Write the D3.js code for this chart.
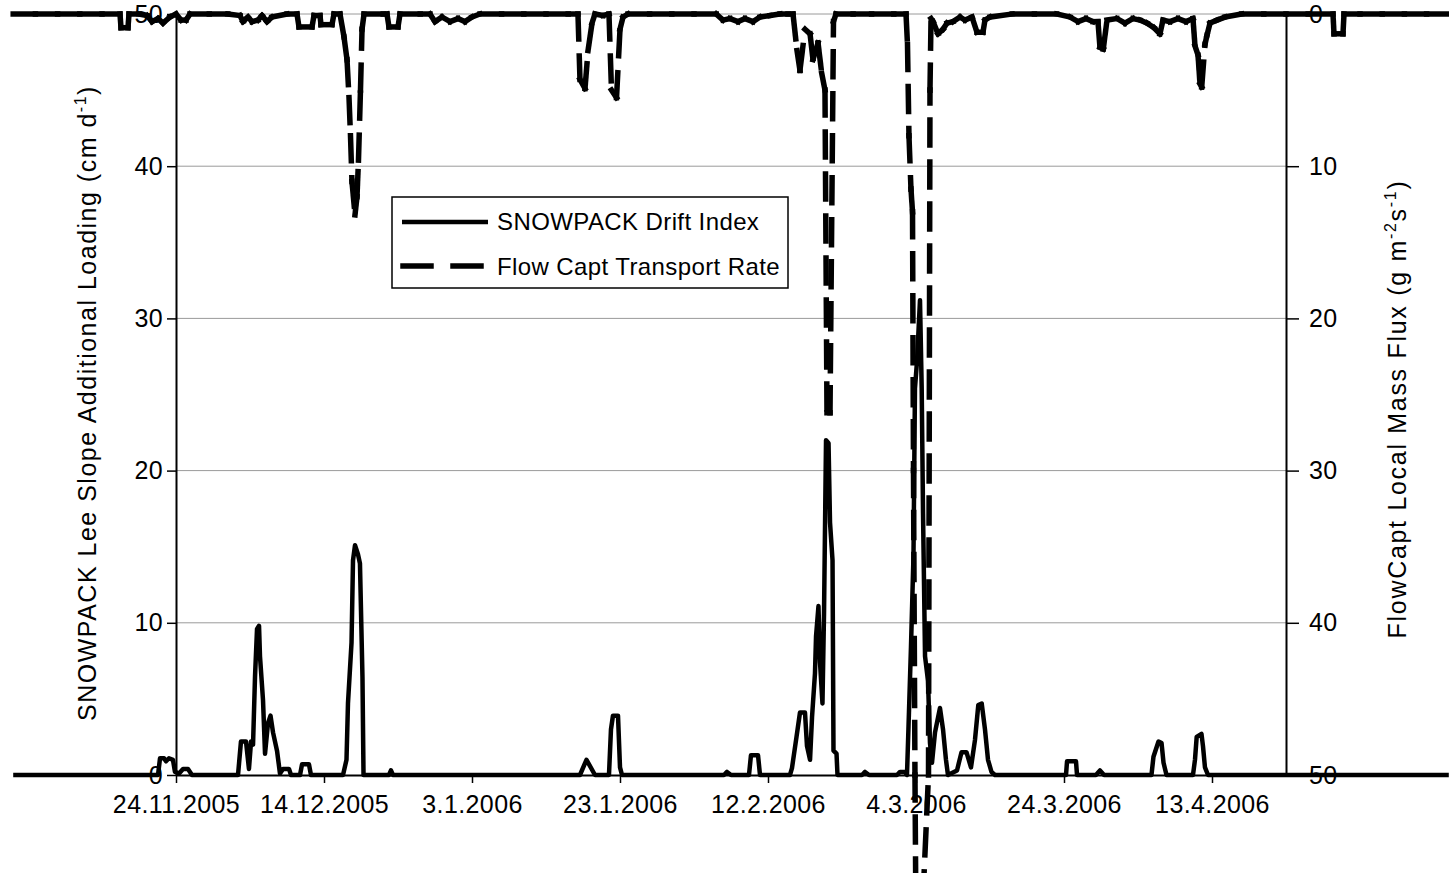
<!DOCTYPE html>
<html>
<head>
<meta charset="utf-8">
<script src="https://cdn.jsdelivr.net/npm/d3@7"></script>
<style>
  body { margin: 0; background: #fff; }
  svg { display: block; font-family: "Liberation Sans", Arial, sans-serif; }
</style>
</head>
<body>
<script>
'use strict';

// x tick labels (every 20 days)
const xTickLabels = ["24.11.2005", "14.12.2005", "3.1.2006", "23.1.2006",
  "12.2.2006", "4.3.2006", "24.3.2006", "13.4.2006"];
const leftTicks = [0, 10, 20, 30, 40, 50];
const rightTicks = [0, 10, 20, 30, 40, 50];

// SNOWPACK drift index: days after 24.11.2005, value in cm/d
const snowDays = [-22, -2.84, -2.43, -2.16, -1.62, -1.35, -0.95, -0.41, -0.14, 0.41, 0.95, 1.62, 2.16,
  8.38, 8.78, 9.46, 9.86, 10.14, 10.41, 10.68, 10.95, 11.22, 11.35, 11.76, 12.03, 12.43, 12.77,
  13.11, 13.65, 14.05, 14.46, 15.27, 15.54, 16.76, 17.03, 17.97, 18.24,
  22.57, 23.04, 23.24, 23.72, 23.92, 24.19, 24.59, 24.86, 25.2, 25.34,
  28.78, 29.05, 29.32, 54.59, 55.47, 56.62, 58.51, 58.78, 59.05, 59.73, 60.0, 60.27,
  74.05, 74.46, 75.0, 77.43, 77.7, 78.65, 78.92,
  82.97, 83.24, 83.85, 84.32, 85.0, 85.27, 85.68, 85.95, 86.35, 86.49, 86.82, 87.03, 87.36,
  87.57, 87.84, 88.18, 88.38, 88.72, 88.85, 89.26, 89.39,
  92.7, 93.11, 93.65, 97.43, 97.84, 98.51, 98.78, 98.99, 99.32, 99.66, 99.86, 100.14, 100.54,
  100.77, 100.95, 101.22, 101.62, 101.89, 102.16, 102.57, 103.24, 103.65, 104.05, 104.32,
  105.54, 106.15, 106.82, 107.43, 107.97, 108.42, 108.88, 109.32, 109.73, 110.2, 110.68,
  120.27, 120.41, 121.62, 121.76, 124.32, 124.86, 125.41,
  131.82, 132.09, 132.77, 133.18, 133.45, 133.85,
  137.43, 137.7, 137.93, 138.58, 138.78, 139.05, 139.46, 172];
const snowValues = [0, 0, 0, 1.1, 1.1, 0.9, 1.1, 1.0, 0.2, 0.1, 0.4, 0.4, 0,
  0, 2.2, 2.2, 0.4, 2.2, 2.0, 6.5, 9.6, 9.8, 7.8, 4.9, 1.4, 3.4, 3.9,
  2.8, 1.6, 0.1, 0.4, 0.4, 0, 0, 0.7, 0.7, 0,
  0, 1.0, 4.7, 8.7, 14.1, 15.1, 14.5, 13.9, 6.4, 0,
  0, 0.3, 0, 0, 1.0, 0, 0, 3.0, 3.9, 3.9, 0.5, 0,
  0, 0.2, 0, 0, 1.3, 1.3, 0,
  0, 0.45, 2.5, 4.1, 4.1, 1.9, 1.0, 3.8, 6.7, 9.1, 11.1, 7.4, 4.7,
  10.6, 22.0, 21.8, 16.6, 14.1, 1.6, 1.4, 0,
  0, 0.2, 0, 0, 0.2, 0.2, 0, 3.2, 8.4, 14.4, 25.4, 27.2, 31.2,
  25.4, 17.2, 7.8, 6.2, 2.1, 0.8, 2.8, 4.4, 3.0, 1.0, 0,
  0.3, 1.5, 1.5, 0.5, 2.3, 4.6, 4.7, 3.0, 1.0, 0.2, 0,
  0, 0.9, 0.9, 0, 0, 0.3, 0,
  0, 1.2, 2.2, 2.1, 0.8, 0,
  0, 1.0, 2.5, 2.7, 1.9, 0.5, 0, 0];

// FlowCapt transport rate: days after 24.11.2005, value in g/m2/s
const flowDays = [-22, -19, -16, -13, -10, -7.57, -7.43, -6.49, -6.35, -5, -3.92, -3.24, -2.43, -1.76, -0.81,
  0, 0.68, 1.35, 1.89, 4.5, 7, 8.65, 9.05, 9.73, 10.27, 11.08, 11.62, 12.3, 12.97, 15,
  16.35, 16.62, 18.38, 18.65, 19.46, 19.59, 21.08, 21.35, 22.16,
  22.7, 23.11, 23.38, 23.58, 23.78, 24.19, 24.46, 24.66, 24.93, 25.14, 25.41,
  28, 28.51, 28.78, 30.0, 30.27, 33, 34.32, 35.0, 35.95, 37.03, 38.11, 39.05, 40.0, 41.08,
  44, 47, 50, 53, 54.32, 54.59, 55.27, 55.68, 56.22, 56.62, 57.7, 58.51, 58.85, 59.53, 60.0, 60.41, 61.08,
  64, 67, 70, 73, 73.92, 74.86, 75.95, 76.89, 77.97, 78.92, 80.27, 81.62, 82.7,
  83.38, 83.92, 84.32, 85.0, 85.68, 86.08, 86.76, 87.26, 87.7, 87.97, 88.38, 88.85, 89.19,
  91.5, 94, 97, 98.65, 98.85, 99.05, 99.32, 99.53, 99.66, 99.86, 100.14, 100.68, 100.95, 101.69,
  101.89, 102.03, 102.3, 102.97, 103.65, 104.19, 105.0, 105.95, 106.62, 107.57, 108.24, 109.05,
  109.32, 110.0, 113, 116, 119, 120.81, 121.89, 122.97, 123.92, 124.59, 124.86, 125.31, 125.81,
  127.16, 128.24, 129.32, 130.27, 131.22, 132.16, 132.97, 133.38, 134.32, 135.41, 136.49,
  137.43, 137.7, 138.11, 138.38, 138.61, 139.05, 139.32, 139.73, 140.68, 141.76,
  144, 147, 150, 153, 156.35, 156.49, 157.7, 157.84, 160, 163, 166, 169, 172];
const flowValues = [0, 0, 0, 0, 0, 0, 0.9, 0.9, 0, 0, 0.1, 0.5, 0.3, 0.6, 0.2,
  0, 0.4, 0.4, 0, 0, 0, 0.1, 0.5, 0.2, 0.5, 0.4, 0.1, 0.5, 0.2, 0,
  0, 0.85, 0.85, 0.1, 0.1, 0.7, 0.7, 0, 0,
  1.5, 3.0, 5.5, 8.0, 11.0, 13.2, 12.0, 9.6, 5.0, 1.0, 0,
  0, 0, 0.85, 0.85, 0, 0, 0, 0.5, 0.2, 0.5, 0.3, 0.5, 0.2, 0,
  0, 0, 0, 0, 0, 4.3, 4.9, 2.4, 0.6, 0, 0.1, 0, 5.0, 5.5, 1.0, 0.2, 0,
  0, 0, 0, 0, 0.4, 0.3, 0.5, 0.3, 0.5, 0.2, 0.1, 0, 0,
  0, 2.4, 3.7, 1.0, 1.3, 3.0, 1.9, 3.9, 5.0, 26.2, 26.2, 0.5, 0,
  0, 0, 0, 0, 2.0, 8.0, 11.5, 13.0, 30, 50, 70, 70, 58, 50,
  5, 0.3, 0.5, 1.3, 1.0, 0.6, 0.5, 0.2, 0.4, 0.2, 1.2, 1.2,
  0.4, 0.2, 0, 0, 0, 0.2, 0.5, 0.3, 0.5, 0.5, 2.2, 2.3, 0.4,
  0.3, 0.6, 0.3, 0.4, 0.6, 0.9, 1.3, 0.4, 0.5, 0.3, 0.5,
  0.3, 2.1, 2.7, 4.6, 4.8, 2.0, 1.4, 0.6, 0.4, 0.2,
  0, 0, 0, 0, 0, 1.3, 1.3, 0, 0, 0, 0, 0, 0];

(function() {
  const width = 1449, height = 873;
  const plot = { left: 176, right: 1286, top: 14, bottom: 775 };
  const font = 25;

  const parseDate = d3.utcParse("%d.%m.%Y");
  const start = parseDate(xTickLabels[0]);
  const end = d3.utcDay.offset(start, 150);
  const toDate = (d) => new Date(start.getTime() + d * 864e5);

  const svg = d3.select("body").append("svg")
    .attr("width", width)
    .attr("height", height);

  const x = d3.scaleUtc().domain([start, end]).range([plot.left, plot.right]);
  const yLeft = d3.scaleLinear().domain([0, 50]).range([plot.bottom, plot.top]);
  const yRight = d3.scaleLinear().domain([0, 50]).range([plot.top, plot.bottom]);

  // gridlines
  svg.append("g").selectAll("line")
    .data(leftTicks.filter((t) => t > 0))
    .enter().append("line")
    .attr("x1", plot.left).attr("x2", plot.right)
    .attr("y1", (d) => yLeft(d)).attr("y2", (d) => yLeft(d))
    .attr("stroke", "#9a9a9a").attr("stroke-width", 1);

  // left axis
  const gl = svg.append("g")
    .attr("transform", `translate(${plot.left},0)`)
    .call(d3.axisLeft(yLeft).tickValues(leftTicks).tickSize(9).tickPadding(4).tickSizeOuter(0));
  // right axis
  const gr = svg.append("g")
    .attr("transform", `translate(${plot.right},0)`)
    .call(d3.axisRight(yRight).tickValues(rightTicks).tickSize(13).tickPadding(10).tickSizeOuter(0));
  // bottom axis
  const gx = svg.append("g")
    .attr("transform", `translate(0,${plot.bottom})`)
    .call(d3.axisBottom(x).tickValues(xTickLabels.map(parseDate))
      .tickFormat(d3.utcFormat("%-d.%-m.%Y")).tickSize(8).tickPadding(12).tickSizeOuter(0));

  [gl, gr, gx].forEach((g) => {
    g.selectAll(".domain").attr("stroke", "#000").attr("stroke-width", 2);
    g.selectAll(".tick line").attr("stroke", "#000").attr("stroke-width", 1.5);
    g.selectAll(".tick text").attr("fill", "#000")
      .style("font-size", font + "px")
      .style("letter-spacing", "0.4px")
      .style("font-family", "'Liberation Sans', Arial, sans-serif");
  });

  // axis titles
  const lt = svg.append("text")
    .attr("transform", "translate(96, 403) rotate(-90)")
    .attr("text-anchor", "middle")
    .style("font-size", font + "px")
    .style("letter-spacing", "1.5px");
  lt.append("tspan").text("SNOWPACK Lee Slope Additional Loading (cm d");
  lt.append("tspan").text("-1").attr("dy", -10).style("font-size", "16px");
  lt.append("tspan").text(")").attr("dy", 10);

  const rt = svg.append("text")
    .attr("transform", "translate(1406, 409) rotate(-90)")
    .attr("text-anchor", "middle")
    .style("font-size", font + "px")
    .style("letter-spacing", "1.7px");
  rt.append("tspan").text("FlowCapt Local Mass Flux (g m");
  rt.append("tspan").text("-2").attr("dy", -10).style("font-size", "16px");
  rt.append("tspan").text("s").attr("dy", 10);
  rt.append("tspan").text("-1").attr("dy", -10).style("font-size", "16px");
  rt.append("tspan").text(")").attr("dy", 10);

  // SNOWPACK series (solid)
  const snow = snowDays.map((d, i) => ({ date: toDate(d), v: snowValues[i] }));
  svg.append("path")
    .datum(snow)
    .attr("fill", "none")
    .attr("stroke", "#000")
    .attr("stroke-width", 4.5)
    .attr("stroke-linejoin", "round")
    .attr("d", d3.line().x((d) => x(d.date)).y((d) => yLeft(d.v)));

  // FlowCapt series (dashed, the dash restarts on every segment)
  const flow = flowDays.map((d, i) => ({ date: toDate(d), v: flowValues[i] }));
  svg.append("g").selectAll("line")
    .data(d3.pairs(flow))
    .enter().append("line")
    .attr("x1", (d) => x(d[0].date)).attr("y1", (d) => yRight(d[0].v))
    .attr("x2", (d) => x(d[1].date)).attr("y2", (d) => yRight(d[1].v))
    .attr("stroke", "#000")
    .attr("stroke-width", 5.5)
    .attr("stroke-linecap", "square")
    .attr("stroke-dasharray", "25,17");

  // legend
  const lg = svg.append("g");
  lg.append("rect")
    .attr("x", 392).attr("y", 197).attr("width", 396).attr("height", 91)
    .attr("fill", "#fff").attr("stroke", "#000").attr("stroke-width", 1.5);
  lg.append("line")
    .attr("x1", 402).attr("x2", 488).attr("y1", 222).attr("y2", 222)
    .attr("stroke", "#000").attr("stroke-width", 4.5);
  lg.append("line")
    .attr("x1", 403).attr("x2", 488).attr("y1", 266).attr("y2", 266)
    .attr("stroke", "#000").attr("stroke-width", 5.5)
    .attr("stroke-linecap", "square").attr("stroke-dasharray", "28,22");
  lg.append("text").attr("x", 497).attr("y", 230).style("font-size", "24px")
    .style("letter-spacing", "0.4px")
    .text("SNOWPACK Drift Index");
  lg.append("text").attr("x", 497).attr("y", 275).style("font-size", "24px")
    .style("letter-spacing", "0.4px")
    .text("Flow Capt Transport Rate");
})();
</script>
</body>
</html>
